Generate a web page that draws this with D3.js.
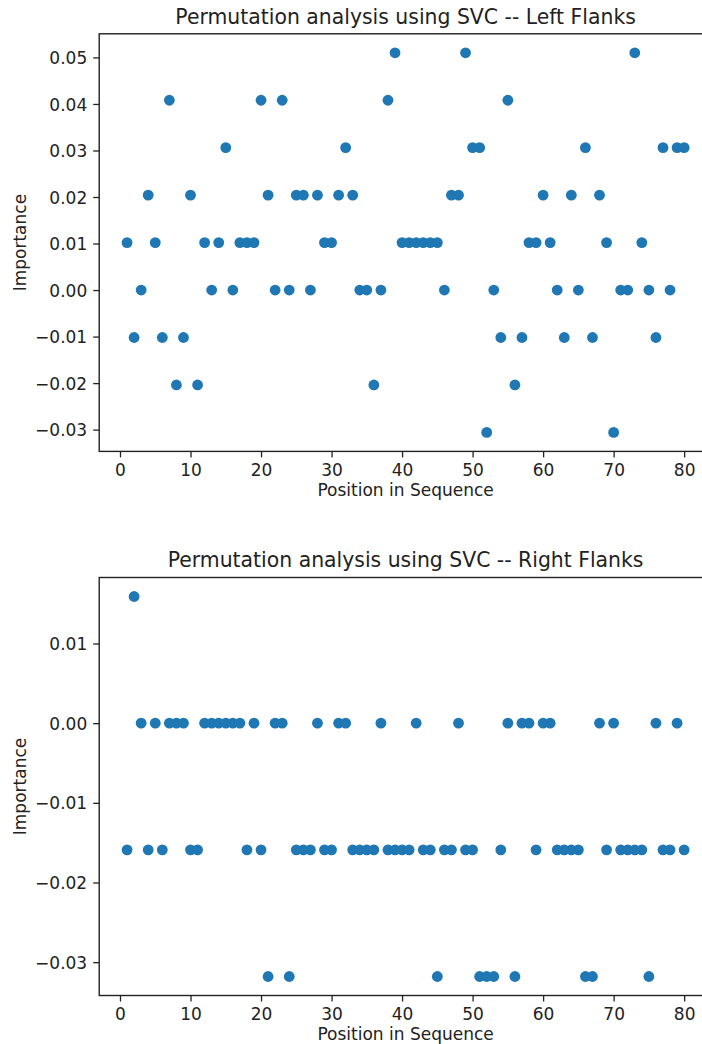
<!DOCTYPE html>
<html>
<head>
<meta charset="utf-8">
<script src="https://cdn.jsdelivr.net/npm/d3@7"></script>
<style>
    body { margin: 0; background: #fff; }
    text { font-family: "DejaVu Sans", sans-serif; fill: #222; }
</style>
</head>
<body>
<div id="chart"></div>
<script>
// position in sequence (same for both flanks)
var positions = [
    1, 2, 3, 4, 5, 6, 7, 8, 9, 10, 11, 12, 13, 14, 15, 16, 17, 18, 19, 20,
    21, 22, 23, 24, 25, 26, 27, 28, 29, 30, 31, 32, 33, 34, 35, 36, 37, 38, 39, 40,
    41, 42, 43, 44, 45, 46, 47, 48, 49, 50, 51, 52, 53, 54, 55, 56, 57, 58, 59, 60,
    61, 62, 63, 64, 65, 66, 67, 68, 69, 70, 71, 72, 73, 74, 75, 76, 77, 78, 79, 80
];

// importance, left flanks
var leftImportance = [
    0.0102, -0.0102, 0, 0.0204, 0.0102, -0.0102, 0.0408, -0.0204, -0.0102, 0.0204,
    -0.0204, 0.0102, 0, 0.0102, 0.0306, 0, 0.0102, 0.0102, 0.0102, 0.0408,
    0.0204, 0, 0.0408, 0, 0.0204, 0.0204, 0, 0.0204, 0.0102, 0.0102,
    0.0204, 0.0306, 0.0204, 0, 0, -0.0204, 0, 0.0408, 0.051, 0.0102,
    0.0102, 0.0102, 0.0102, 0.0102, 0.0102, 0, 0.0204, 0.0204, 0.051, 0.0306,
    0.0306, -0.0306, 0, -0.0102, 0.0408, -0.0204, -0.0102, 0.0102, 0.0102, 0.0204,
    0.0102, 0, -0.0102, 0.0204, 0, 0.0306, -0.0102, 0.0204, 0.0102, -0.0306,
    0, 0, 0.051, 0.0102, 0, -0.0102, 0.0306, 0, 0.0306, 0.0306
];

// importance, right flanks
var rightImportance = [
    -0.0159, 0.0159, 0, -0.0159, 0, -0.0159, 0, 0, 0, -0.0159,
    -0.0159, 0, 0, 0, 0, 0, 0, -0.0159, 0, -0.0159,
    -0.0318, 0, 0, -0.0318, -0.0159, -0.0159, -0.0159, 0, -0.0159, -0.0159,
    0, 0, -0.0159, -0.0159, -0.0159, -0.0159, 0, -0.0159, -0.0159, -0.0159,
    -0.0159, 0, -0.0159, -0.0159, -0.0318, -0.0159, -0.0159, 0, -0.0159, -0.0159,
    -0.0318, -0.0318, -0.0318, -0.0159, 0, -0.0318, 0, 0, -0.0159, 0,
    0, -0.0159, -0.0159, -0.0159, -0.0159, -0.0318, -0.0318, 0, -0.0159, 0,
    -0.0159, -0.0159, -0.0159, -0.0159, -0.0318, 0, -0.0159, -0.0159, 0, -0.0159
];

// ticks
var xTicks = [0, 10, 20, 30, 40, 50, 60, 70, 80];
var leftYTicks = [-0.03, -0.02, -0.01, 0.00, 0.01, 0.02, 0.03, 0.04, 0.05];
var rightYTicks = [-0.03, -0.02, -0.01, 0.00, 0.01];

var titles = [
    "Permutation analysis using SVC -- Left Flanks",
    "Permutation analysis using SVC -- Right Flanks"
];


var width = 702, height = 1044;

var svg = d3.select("#chart")
    .append("svg")
    .attr("width", width)
    .attr("height", height);

//matplotlib style limits: 5% margin on each side
function padded(extent) {
    var m = (extent[1] - extent[0]) * 0.05;
    return [extent[0] - m, extent[1] + m];
}

/*************************************** Start --> Scatter panel ***************************************/
function scatterPanel(values, yTicks, title, box) {
    var g = svg.append("g");

    var xScale = d3.scaleLinear().domain(padded(d3.extent(positions))).range([box.left, box.right]);
    var yScale = d3.scaleLinear().domain(padded(d3.extent(values))).range([box.bottom, box.top]);

    // x axis
    var xAxis = g.append("g")
        .attr("transform", "translate(0," + box.bottom + ")")
        .call(d3.axisBottom(xScale).tickValues(xTicks).tickSize(6).tickSizeOuter(0).tickPadding(6)
            .tickFormat(d3.format("d")));

    // y axis
    var yAxis = g.append("g")
        .attr("transform", "translate(" + box.left + ",0)")
        .call(d3.axisLeft(yScale).tickValues(yTicks).tickSize(6).tickSizeOuter(0).tickPadding(6)
            .tickFormat(d3.format(".2f")));

    [xAxis, yAxis].forEach(function (a) {
        a.select(".domain").remove();
        a.selectAll(".tick line").attr("stroke", "#222").attr("stroke-width", 1.3);
        a.selectAll(".tick text").style("font-size", "17px").attr("fill", "#222");
    });
    xAxis.selectAll(".tick text").attr("dy", null).attr("y", 12 + 12.4);
    yAxis.selectAll(".tick text").attr("dy", "0.36em");

    // dots
    g.append("g")
        .selectAll("circle")
        .data(values)
        .enter()
        .append("circle")
        .attr("cx", function (d, i) { return xScale(positions[i]); })
        .attr("cy", function (d) { return yScale(d); })
        .attr("r", 5.4)
        .style("fill", "#1f77b4");

    // frame
    g.append("rect")
        .attr("x", box.left)
        .attr("y", box.top)
        .attr("width", box.right - box.left)
        .attr("height", box.bottom - box.top)
        .attr("fill", "none")
        .attr("stroke", "#222")
        .attr("stroke-width", 1.4);

    // Title
    g.append("text")
        .attr("x", (box.left + box.right) / 2)
        .attr("y", box.top - 10.2)
        .attr("text-anchor", "middle")
        .style("font-size", "20.4px")
        .text(title);

    // X label
    g.append("text")
        .attr("x", (box.left + box.right) / 2)
        .attr("y", box.bottom + 12 + 12.4 + 20)
        .attr("text-anchor", "middle")
        .style("font-size", "17px")
        .text("Position in Sequence");

    // Y label
    g.append("text")
        .attr("text-anchor", "middle")
        .attr("transform", "translate(26," + (box.top + box.bottom) / 2 + ")rotate(-90)")
        .style("font-size", "17px")
        .text("Importance");
}
/*************************************** End --> Scatter panel ***************************************/

scatterPanel(leftImportance, leftYTicks, titles[0], { left: 99.2, right: 712, top: 33.8, bottom: 451.4 });
scatterPanel(rightImportance, rightYTicks, titles[1], { left: 99.2, right: 712, top: 577.5, bottom: 995.5 });
</script>
</body>
</html>
